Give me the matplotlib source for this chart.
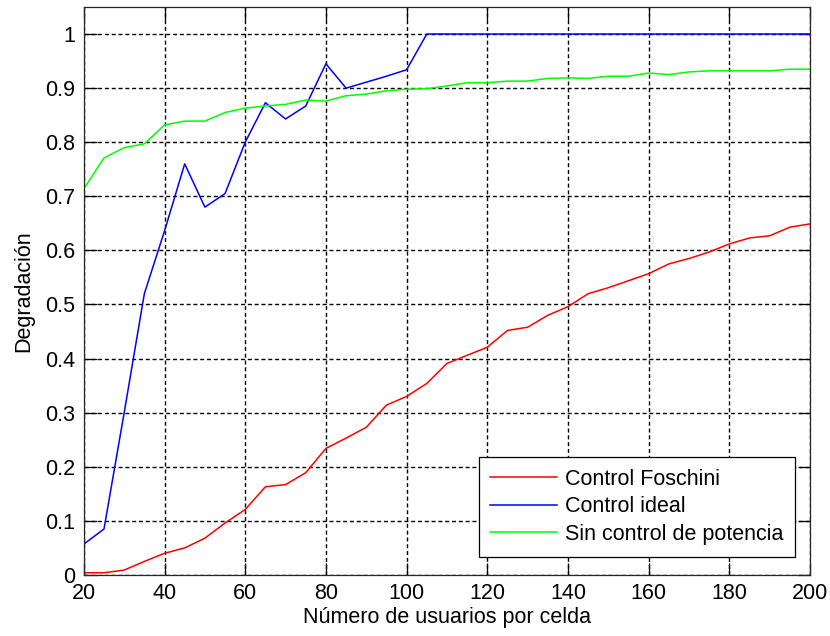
import matplotlib
matplotlib.use("Agg")
import matplotlib.pyplot as plt
import numpy as np

plt.rcParams['font.family'] = ['Liberation Sans', 'DejaVu Sans']

# usuarios por celda
usuarios = np.arange(20, 201, 5)

foschini = [0.004, 0.004, 0.009, 0.025, 0.040, 0.050, 0.068, 0.096, 0.121, 0.163,
            0.167, 0.189, 0.234, 0.253, 0.273, 0.314, 0.330, 0.354, 0.391, 0.406,
            0.421, 0.452, 0.458, 0.480, 0.496, 0.520, 0.531, 0.544, 0.557, 0.575,
            0.585, 0.597, 0.612, 0.623, 0.627, 0.643, 0.649]

ideal = [0.057, 0.085, 0.300, 0.520, 0.636, 0.760, 0.680, 0.705, 0.800, 0.873,
         0.843, 0.867, 0.945, 0.900, 0.911, 0.922, 0.934, 1.0, 1.0, 1.0,
         1.0, 1.0, 1.0, 1.0, 1.0, 1.0, 1.0, 1.0, 1.0, 1.0,
         1.0, 1.0, 1.0, 1.0, 1.0, 1.0, 1.0]

sin_control = [0.714, 0.771, 0.790, 0.797, 0.832, 0.839, 0.839, 0.855, 0.863, 0.867,
               0.870, 0.878, 0.876, 0.886, 0.889, 0.895, 0.898, 0.899, 0.904, 0.910,
               0.910, 0.913, 0.913, 0.918, 0.919, 0.918, 0.922, 0.922, 0.928, 0.925,
               0.930, 0.932, 0.932, 0.932, 0.932, 0.935, 0.935]

etiquetas = ['Control Foschini', 'Control ideal', 'Sin control de potencia']

fig = plt.figure(figsize=(8.3, 6.36), dpi=100)
ax = fig.add_axes([0.101, 0.096, 0.875, 0.893])

ax.plot(usuarios, foschini, color='#ff0000', lw=1.1, label=etiquetas[0])
ax.plot(usuarios, ideal, color='#0000ff', lw=1.1, label=etiquetas[1])
ax.plot(usuarios, sin_control, color='#00ff00', lw=1.1, label=etiquetas[2])

ax.set_xlim(20, 200)
ax.set_ylim(0, 1.05)
ax.set_xticks(np.arange(20, 201, 20))
ax.set_yticks(np.arange(0, 1.01, 0.1))
ax.set_yticklabels(['0', '0.1', '0.2', '0.3', '0.4', '0.5', '0.6', '0.7', '0.8', '0.9', '1'])

# rejilla punteada estilo matlab
ax.grid(True, color='black', linestyle=(0, (2.9, 2.0)), linewidth=1.0)
ax.tick_params(direction='in', length=9, width=0.9, top=True, right=True,
               labelsize=15.5, pad=6, colors='black')
for s in ax.spines.values():
    s.set_linewidth(0.9)
    s.set_color('#262626')

ax.set_xlabel('Número de usuarios por celda', fontsize=15.5, labelpad=2)
ax.set_ylabel('Degradación', fontsize=15.5, labelpad=8)

leg = ax.legend(loc='lower right', bbox_to_anchor=(0.979, 0.032), borderaxespad=0,
                fontsize=15.5, fancybox=False, edgecolor='black', framealpha=1,
                handlelength=3.1, handletextpad=0.35, labelspacing=0.3,
                borderpad=0.55)
leg.get_frame().set_linewidth(0.9)

plt.savefig('out.png', dpi=100)
